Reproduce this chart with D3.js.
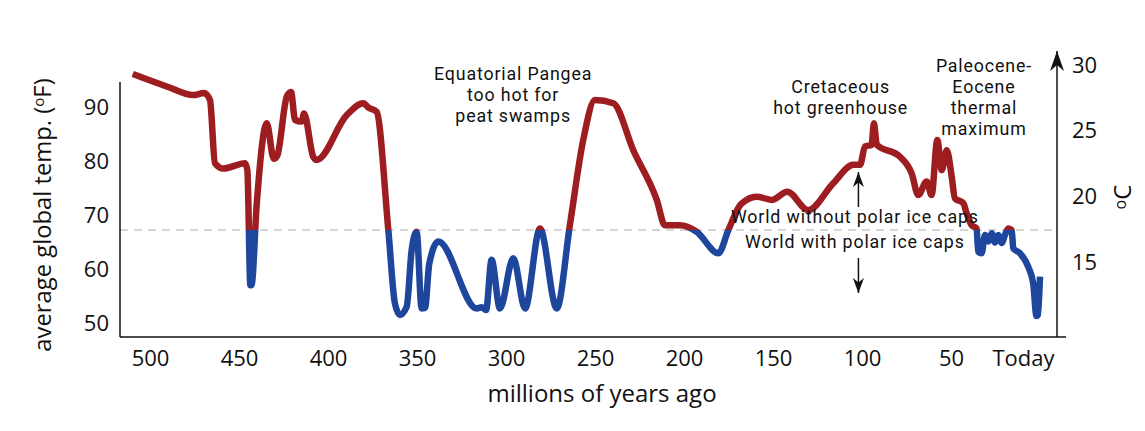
<!DOCTYPE html>
<html>
<head>
<meta charset="utf-8">
<script src="https://cdn.jsdelivr.net/npm/d3@7"></script>
<style>
  body { margin: 0; background: #fff; }
  svg text { font-family: "Open Sans", sans-serif; fill: #111; }
  svg text.note { font-family: Roboto, sans-serif; letter-spacing: 0.85px; }
</style>
</head>
<body>
<div id="chart"></div>
<script>
// Phanerozoic temperature curve
const agesMa = [509.7, 490.6, 475.7, 469.7, 466.3, 463.5, 458.8, 446.6, 445.3, 443.6, 443.0, 440.0,
  434.4, 430.5, 428.5, 423.2, 420.8, 418.5, 414.8, 413.5, 408.3, 406.4, 389.5, 380.2, 377.3, 372.7,
  366.1, 362.4, 359.6, 355.8, 353.0, 350.2, 347.4, 345.5, 343.1, 338.0, 316.5, 313.7, 311.2, 308.1,
  303.4, 295.9, 289.3, 280.9, 271.5, 264.0, 256.6, 250.0, 239.7, 228.5, 215.3, 210.7, 202.2, 192.9,
  180.7, 175.1, 168.0, 159.2, 150.7, 142.0, 130.2, 116.1, 104.9, 101.1, 98.3, 94.6, 93.3, 91.7,
  78.7, 72.1, 68.4, 63.7, 60.9, 57.7, 55.2, 52.4, 49.6, 47.8, 43.1, 41.2, 38.4, 35.6, 34.7, 32.8,
  30.9, 29.0, 27.1, 25.3, 23.4, 21.5, 19.7, 17.8, 15.9, 15.0, 11.2, 6.6, 3.8, 2.0, 1.2, 0.0];
const tempF = [96.1, 93.8, 92.2, 92.6, 91.3, 79.6, 78.6, 79.6, 78.3, 57.0, 57.0, 72.2,
  87.0, 80.4, 81.0, 91.9, 92.8, 87.6, 87.3, 88.8, 80.8, 80.2, 88.5, 90.7, 89.9, 89.1,
  67.2, 53.6, 51.5, 53.0, 63.5, 66.9, 52.7, 52.8, 61.0, 65.1, 52.7, 52.9, 52.4, 61.7,
  52.7, 62.0, 52.7, 67.5, 52.7, 68.4, 83.9, 91.3, 90.7, 82.0, 72.8, 68.1, 68.1, 66.9,
  62.9, 67.2, 72.0, 73.4, 72.8, 74.3, 70.9, 75.9, 79.3, 79.3, 82.7, 83.0, 87.0, 83.0,
  80.8, 77.7, 73.7, 76.2, 73.7, 83.9, 78.3, 82.0, 77.1, 73.1, 72.2, 70.3, 68.1, 67.5, 63.2, 62.9,
  66.3, 65.1, 66.6, 64.9, 66.3, 64.8, 66.3, 67.5, 67.2, 63.8, 62.9, 60.4, 57.3, 51.3, 51.5, 58.6];

const xTicks = [500, 450, 400, 350, 300, 250, 200, 150, 100, 50, 0];
const fTicks = [50, 60, 70, 80, 90];
const cTicks = [15, 20, 25, 30];
const iceThresholdF = 67.2;

const annotations = [
  { lines: ["Equatorial Pangea", "too hot for", "peat swamps"], age: 296, top: 80 },
  { lines: ["Cretaceous", "hot greenhouse"], age: 112, top: 93 },
  { lines: ["Paleocene-", "Eocene", "thermal", "maximum"], age: 31.5, top: 72 }
];

const width = 1145, height = 431;
const svg = d3.select("#chart").append("svg")
  .attr("width", width)
  .attr("height", height);

const x = d3.scaleLinear().domain([500, 0]).range([150, 1040]);
const yF = d3.scaleLinear().domain([50, 90]).range([323, 107]);
const yC = d3.scaleLinear().domain([15, 30]).range([262.3, 65]);

const axisLeftX = 120, axisRightX = 1057, axisBottomY = 337;
const red = "#9d1d21", blue = "#1e469c";
const noteSize = 17.8;

// threshold line
svg.append("line")
  .attr("x1", axisLeftX).attr("x2", axisRightX)
  .attr("y1", yF(iceThresholdF)).attr("y2", yF(iceThresholdF))
  .attr("stroke", "#c9c9c9")
  .attr("stroke-width", 1.5)
  .attr("stroke-dasharray", "8,6");

// clip above / below threshold
const defs = svg.append("defs");
defs.append("clipPath").attr("id", "above")
  .append("rect").attr("x", 0).attr("y", 0)
  .attr("width", width).attr("height", yF(iceThresholdF));
defs.append("clipPath").attr("id", "below")
  .append("rect").attr("x", 0).attr("y", yF(iceThresholdF))
  .attr("width", width).attr("height", height);

function arrowMarker(id, len, wid) {
  defs.append("marker")
    .attr("id", id)
    .attr("viewBox", `0 0 ${len} ${wid}`)
    .attr("refX", len).attr("refY", wid / 2)
    .attr("markerWidth", len).attr("markerHeight", wid)
    .attr("markerUnits", "userSpaceOnUse")
    .attr("orient", "auto")
    .append("path")
    .attr("d", `M0,0 L${len},${wid / 2} L0,${wid} L${len * 0.3},${wid / 2} Z`)
    .attr("fill", "#111");
}
arrowMarker("axisArrow", 20, 14);
arrowMarker("capArrow", 15, 11);

const points = agesMa.map((a, i) => ({ age: a, temp: tempF[i] }));

const line = d3.line()
  .x(d => x(d.age))
  .y(d => yF(d.temp))
  .curve(d3.curveMonotoneX);

[["above", red], ["below", blue]].forEach(([clip, col]) => {
  svg.append("path")
    .datum(points)
    .attr("clip-path", `url(#${clip})`)
    .attr("fill", "none")
    .attr("stroke", col)
    .attr("stroke-width", 6.5)
    .attr("stroke-linejoin", "round")
    .attr("d", line);
});

// axes
svg.append("line")
  .attr("x1", axisLeftX).attr("x2", axisLeftX)
  .attr("y1", 82).attr("y2", axisBottomY)
  .attr("stroke", "#111").attr("stroke-width", 1.5);
svg.append("line")
  .attr("x1", axisLeftX).attr("x2", 1066)
  .attr("y1", axisBottomY).attr("y2", axisBottomY)
  .attr("stroke", "#111").attr("stroke-width", 1.5);
svg.append("line")
  .attr("x1", axisRightX).attr("x2", axisRightX)
  .attr("y1", axisBottomY).attr("y2", 51)
  .attr("stroke", "#111").attr("stroke-width", 1.5)
  .attr("marker-end", "url(#axisArrow)");

const gx = svg.append("g")
  .attr("transform", `translate(0,${axisBottomY})`)
  .call(d3.axisBottom(x).tickValues(xTicks).tickSize(0).tickPadding(13)
    .tickFormat(d => d === 0 ? "Today" : d));
gx.selectAll("text").attr("font-size", 22)
  .attr("dx", d => d === 0 ? -17 : 0);

const gy = svg.append("g")
  .attr("transform", `translate(${axisLeftX},0)`)
  .call(d3.axisLeft(yF).tickValues(fTicks).tickSize(0).tickPadding(11));
gy.selectAll("text").attr("font-size", 22);

const gc = svg.append("g")
  .attr("transform", `translate(${axisRightX},0)`)
  .call(d3.axisRight(yC).tickValues(cTicks).tickSize(0).tickPadding(15));
gc.selectAll("text").attr("font-size", 22);

[gx, gy, gc].forEach(g => {
  g.select(".domain").remove();
  g.selectAll("text").attr("fill", "#111").style("font-family", '"Open Sans", sans-serif');
});

// axis titles
svg.append("text")
  .attr("x", 602).attr("y", 402)
  .attr("text-anchor", "middle")
  .attr("font-size", 24)
  .text("millions of years ago");

const yTitle = svg.append("text")
  .attr("transform", "translate(51,215) rotate(-90)")
  .attr("text-anchor", "middle")
  .attr("font-size", 23.8);
yTitle.append("tspan").text("average global temp. (");
yTitle.append("tspan").attr("font-size", 15).attr("dy", -7).text("o");
yTitle.append("tspan").attr("dy", 7).text("F)");

const cTitle = svg.append("text")
  .attr("transform", "translate(1131,197) rotate(-90)")
  .attr("text-anchor", "middle")
  .attr("font-size", 24);
cTitle.append("tspan").attr("font-size", 16).attr("dy", -5).text("o");
cTitle.append("tspan").attr("dy", 5).text("C");

// annotations
annotations.forEach(a => {
  const t = svg.append("text")
    .attr("class", "note")
    .attr("text-anchor", "middle")
    .attr("font-size", noteSize);
  a.lines.forEach((l, i) => {
    t.append("tspan")
      .attr("x", x(a.age))
      .attr("y", a.top + i * 21)
      .text(l);
  });
});

// polar ice caps labels and arrows
const capsX = x(104);
svg.append("text")
  .attr("class", "note")
  .attr("x", capsX).attr("y", 223)
  .attr("text-anchor", "middle").attr("font-size", noteSize)
  .text("World without polar ice caps");
svg.append("text")
  .attr("class", "note")
  .attr("x", capsX).attr("y", 248)
  .attr("text-anchor", "middle").attr("font-size", noteSize)
  .text("World with polar ice caps");
svg.append("line")
  .attr("x1", x(102)).attr("x2", x(102))
  .attr("y1", 207).attr("y2", 172)
  .attr("stroke", "#111").attr("stroke-width", 1.5)
  .attr("marker-end", "url(#capArrow)");
svg.append("line")
  .attr("x1", x(102)).attr("x2", x(102))
  .attr("y1", 258).attr("y2", 293)
  .attr("stroke", "#111").attr("stroke-width", 1.5)
  .attr("marker-end", "url(#capArrow)");
</script>
</body>
</html>
